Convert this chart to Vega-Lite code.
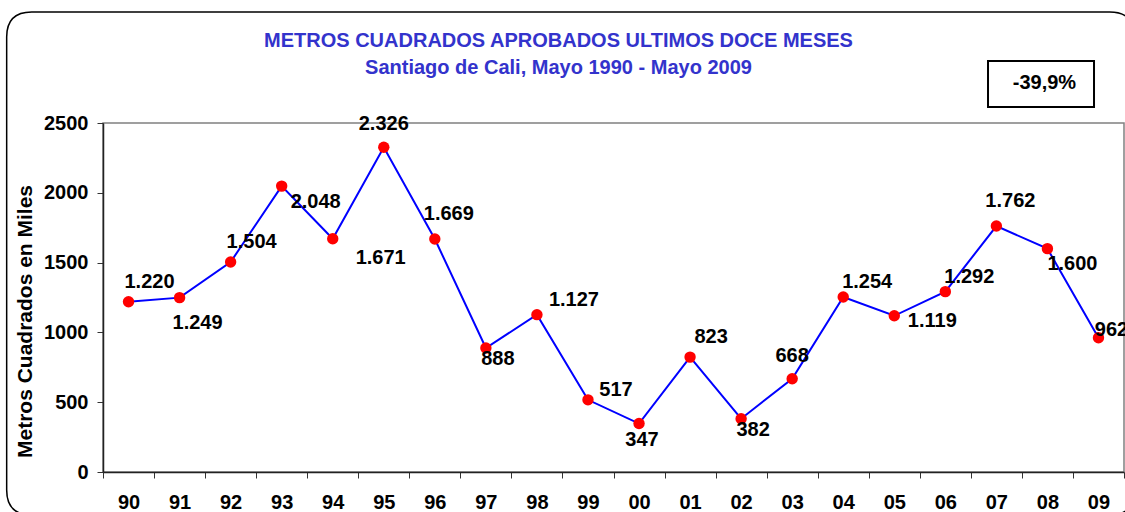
{
  "$schema": "https://vega.github.io/schema/vega-lite/v6.json",
  "autosize": {"type": "none"},
  "padding": {"left": 103, "top": 123, "right": 1, "bottom": 40},
  "width": 1021,
  "height": 349,
  "background": "white",
  "config": {
    "locale": {"number": {"decimal": ",", "thousands": ".", "grouping": [3], "currency": ["", ""]}},
    "font": "Liberation Sans",
    "view": {"stroke": "#808080", "strokeWidth": 1.5}
  },
  "title": {
    "text": "METROS CUADRADOS APROBADOS ULTIMOS DOCE MESES",
    "subtitle": "Santiago de Cali, Mayo 1990 - Mayo 2009",
    "anchor": "middle",
    "frame": "group",
    "dx": -55,
    "offset": -69,
    "font": "Liberation Sans",
    "fontSize": 20,
    "fontWeight": "bold",
    "color": "#3333cc",
    "subtitleFont": "Liberation Sans",
    "subtitleFontSize": 20,
    "subtitleFontWeight": "bold",
    "subtitleColor": "#3333cc",
    "subtitlePadding": 7
  },
  "data": {
    "values": [
      {"year": "90", "value": 1220},
      {"year": "91", "value": 1249},
      {"year": "92", "value": 1504},
      {"year": "93", "value": 2048},
      {"year": "94", "value": 1671},
      {"year": "95", "value": 2326},
      {"year": "96", "value": 1669},
      {"year": "97", "value": 888},
      {"year": "98", "value": 1127},
      {"year": "99", "value": 517},
      {"year": "00", "value": 347},
      {"year": "01", "value": 823},
      {"year": "02", "value": 382},
      {"year": "03", "value": 668},
      {"year": "04", "value": 1254},
      {"year": "05", "value": 1119},
      {"year": "06", "value": 1292},
      {"year": "07", "value": 1762},
      {"year": "08", "value": 1600},
      {"year": "09", "value": 962}
    ]
  },
  "encoding": {
    "x": {
      "field": "year",
      "type": "nominal",
      "sort": null,
      "scale": {"type": "band", "paddingInner": 0, "paddingOuter": 0},
      "axis": {
        "title": null,
        "labelAngle": 0,
        "labelFont": "Liberation Sans",
        "labelFontSize": 20,
        "labelFontWeight": "bold",
        "labelColor": "black",
        "labelPadding": 14,
        "tickBand": "extent",
        "tickSize": 6,
        "tickColor": "#333333",
        "domainColor": "#222222",
        "domainWidth": 1.5,
        "grid": false
      }
    },
    "y": {
      "field": "value",
      "type": "quantitative",
      "scale": {"domain": [0, 2500], "nice": false},
      "axis": {
        "title": "Metros Cuadrados en Miles",
        "titleFont": "Liberation Sans",
        "titleFontSize": 21,
        "titleFontWeight": "bold",
        "titleColor": "black",
        "titleX": -78,
        "titleY": 198,
        "titleAlign": "center",
        "titleBaseline": "middle",
        "values": [0, 500, 1000, 1500, 2000, 2500],
        "format": "d",
        "labelFont": "Liberation Sans",
        "labelFontSize": 20,
        "labelFontWeight": "bold",
        "labelColor": "black",
        "labelPadding": 9,
        "tickSize": 6,
        "tickColor": "#333333",
        "domainColor": "#222222",
        "domainWidth": 1.5,
        "grid": false
      }
    }
  },
  "layer": [
    {"mark": {"type": "line", "color": "#0000ff", "strokeWidth": 2}},
    {"mark": {"type": "point", "filled": true, "color": "#ff0000", "size": 130, "opacity": 1}},
    {
      "transform": [{"filter": {"field": "year", "oneOf": ["90", "92", "01"]}}],
      "mark": {"type": "text", "dx": 21, "dy": -20, "fontSize": 20, "fontWeight": "bold", "color": "black"},
      "encoding": {"text": {"field": "value", "type": "quantitative", "format": ",d"}}
    },
    {
      "transform": [{"filter": {"field": "year", "oneOf": ["04", "06"]}}],
      "mark": {"type": "text", "dx": 24, "dy": -15, "fontSize": 20, "fontWeight": "bold", "color": "black"},
      "encoding": {"text": {"field": "value", "type": "quantitative", "format": ",d"}}
    },
    {
      "transform": [{"filter": {"field": "year", "oneOf": ["96", "07"]}}],
      "mark": {"type": "text", "dx": 14, "dy": -25, "fontSize": 20, "fontWeight": "bold", "color": "black"},
      "encoding": {"text": {"field": "value", "type": "quantitative", "format": ",d"}}
    },
    {
      "transform": [{"filter": {"field": "year", "oneOf": ["91"]}}],
      "mark": {"type": "text", "dx": 18, "dy": 25, "fontSize": 20, "fontWeight": "bold", "color": "black"},
      "encoding": {"text": {"field": "value", "type": "quantitative", "format": ",d"}}
    },
    {
      "transform": [{"filter": {"field": "year", "oneOf": ["08"]}}],
      "mark": {"type": "text", "dx": 25, "dy": 15, "fontSize": 20, "fontWeight": "bold", "color": "black"},
      "encoding": {"text": {"field": "value", "type": "quantitative", "format": ",d"}}
    },
    {
      "transform": [{"filter": {"field": "year", "oneOf": ["97", "02"]}}],
      "mark": {"type": "text", "dx": 12, "dy": 11, "fontSize": 20, "fontWeight": "bold", "color": "black"},
      "encoding": {"text": {"field": "value", "type": "quantitative", "format": ",d"}}
    },
    {
      "transform": [{"filter": {"field": "year", "oneOf": ["93"]}}],
      "mark": {"type": "text", "dx": 34, "dy": 16, "fontSize": 20, "fontWeight": "bold", "color": "black"},
      "encoding": {"text": {"field": "value", "type": "quantitative", "format": ",d"}}
    },
    {
      "transform": [{"filter": {"field": "year", "oneOf": ["94"]}}],
      "mark": {"type": "text", "dx": 48, "dy": 19, "fontSize": 20, "fontWeight": "bold", "color": "black"},
      "encoding": {"text": {"field": "value", "type": "quantitative", "format": ",d"}}
    },
    {
      "transform": [{"filter": {"field": "year", "oneOf": ["05"]}}],
      "mark": {"type": "text", "dx": 38, "dy": 5, "fontSize": 20, "fontWeight": "bold", "color": "black"},
      "encoding": {"text": {"field": "value", "type": "quantitative", "format": ",d"}}
    },
    {
      "transform": [{"filter": {"field": "year", "oneOf": ["98"]}}],
      "mark": {"type": "text", "dx": 37, "dy": -15, "fontSize": 20, "fontWeight": "bold", "color": "black"},
      "encoding": {"text": {"field": "value", "type": "quantitative", "format": ",d"}}
    },
    {
      "transform": [{"filter": {"field": "year", "oneOf": ["99"]}}],
      "mark": {"type": "text", "dx": 28, "dy": -10, "fontSize": 20, "fontWeight": "bold", "color": "black"},
      "encoding": {"text": {"field": "value", "type": "quantitative", "format": ",d"}}
    },
    {
      "transform": [{"filter": {"field": "year", "oneOf": ["09"]}}],
      "mark": {"type": "text", "dx": 13, "dy": -8, "fontSize": 20, "fontWeight": "bold", "color": "black"},
      "encoding": {"text": {"field": "value", "type": "quantitative", "format": ",d"}}
    },
    {
      "transform": [{"filter": {"field": "year", "oneOf": ["95", "03"]}}],
      "mark": {"type": "text", "dx": 0, "dy": -23, "fontSize": 20, "fontWeight": "bold", "color": "black"},
      "encoding": {"text": {"field": "value", "type": "quantitative", "format": ",d"}}
    },
    {
      "transform": [{"filter": {"field": "year", "oneOf": ["00"]}}],
      "mark": {"type": "text", "dx": 3, "dy": 16, "fontSize": 20, "fontWeight": "bold", "color": "black"},
      "encoding": {"text": {"field": "value", "type": "quantitative", "format": ",d"}}
    },
    {
      "transform": [{"filter": {"field": "year", "equal": "08"}}],
      "mark": {
        "type": "point",
        "filled": false,
        "shape": "M-1.121,-0.434 L0.879,-0.434 L0.879,0.434 L-1.121,0.434 Z",
        "stroke": "black",
        "strokeWidth": 2,
        "opacity": 1
      },
      "encoding": {
        "x": {"datum": "08"},
        "y": {"datum": 2779},
        "size": {"value": 11236}
      }
    },
    {
      "transform": [{"filter": {"field": "year", "equal": "08"}}],
      "mark": {"type": "text", "dx": -3, "dy": -1, "fontSize": 20, "fontWeight": "bold", "color": "black"},
      "encoding": {
        "x": {"datum": "08"},
        "y": {"datum": 2779},
        "text": {"value": "-39,9%"}
      }
    },
    {
      "transform": [{"filter": {"field": "year", "equal": "99"}}],
      "mark": {
        "type": "point",
        "filled": false,
        "shape": "M-1.1126,-0.571 L1.0434,-0.571 Q1.0934,-0.571 1.0934,-0.521 L1.0934,0.385 Q1.0934,0.435 1.0434,0.435 L-1.1126,0.435 Q-1.1626,0.435 -1.1626,0.385 L-1.1626,-0.521 Q-1.1626,-0.571 -1.1126,-0.571 Z",
        "stroke": "black",
        "strokeWidth": 1.5,
        "opacity": 1
      },
      "encoding": {
        "x": {"datum": "99"},
        "y": {"datum": 1250},
        "size": {"value": 1000000}
      }
    }
  ]
}
